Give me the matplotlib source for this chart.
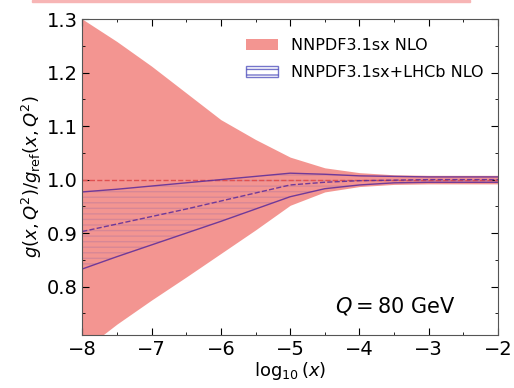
import matplotlib.pyplot as plt
import matplotlib.patches as mpatches
from matplotlib.ticker import MultipleLocator

# log10(x) grid
logx = [-8.0, -7.5, -7.0, -6.5, -6.0, -5.5, -5.0, -4.5, -4.0, -3.5, -3.0, -2.5, -2.0]

# NNPDF3.1sx NLO band (ratio to reference)
ref_up = [1.30, 1.258, 1.212, 1.162, 1.112, 1.075, 1.042, 1.022, 1.013, 1.009, 1.008, 1.008, 1.008]
ref_lo = [0.68, 0.730, 0.775, 0.818, 0.862, 0.906, 0.952, 0.977, 0.987, 0.991, 0.992, 0.992, 0.992]
ref_cv = [1.0] * len(logx)

# NNPDF3.1sx+LHCb NLO band
lhcb_up = [0.977, 0.982, 0.988, 0.994, 1.000, 1.006, 1.012, 1.010, 1.007, 1.006, 1.005, 1.005, 1.005]
lhcb_cv = [0.903, 0.917, 0.931, 0.945, 0.960, 0.975, 0.990, 0.995, 0.998, 0.999, 1.000, 1.000, 1.000]
lhcb_lo = [0.833, 0.856, 0.878, 0.900, 0.922, 0.945, 0.968, 0.983, 0.990, 0.994, 0.995, 0.995, 0.995]

red = '#f28a85'
blue = '#3b3bb5'

fig = plt.figure(figsize=(5.14, 3.88), dpi=100)
ax = fig.add_axes([0.160, 0.137, 0.809, 0.814])

ax.fill_between(logx, ref_lo, ref_up, color=red, alpha=0.9, lw=0)
ax.plot(logx, ref_cv, ls='--', color='#e05050', lw=1.0)

ax.fill_between(logx, lhcb_lo, lhcb_up, facecolor='none', edgecolor=blue,
                hatch='---', lw=0, alpha=0.15)
ax.plot(logx, lhcb_up, color='#5a2a9a', lw=1.0, alpha=0.85)
ax.plot(logx, lhcb_lo, color='#5a2a9a', lw=1.0, alpha=0.85)
ax.plot(logx, lhcb_cv, color='#5a2a9a', lw=1.0, ls='--', alpha=0.85)

ax.set_xlim(-8, -2)
ax.set_ylim(0.71, 1.3)
ax.xaxis.set_major_locator(MultipleLocator(1))
ax.xaxis.set_minor_locator(MultipleLocator(0.5))
ax.yaxis.set_major_locator(MultipleLocator(0.1))
ax.yaxis.set_minor_locator(MultipleLocator(0.05))
ax.tick_params(which='both', direction='in', top=True, right=True, labelsize=14)
ax.tick_params(which='major', length=5)
ax.tick_params(which='minor', length=2.5)
for s in ax.spines.values():
    s.set_color('#555555')

ax.set_xlabel(r'$\log_{10}(x)$', fontsize=13, labelpad=1)
ax.set_ylabel(r'$g(x,Q^2)/g_{\rm ref}(x,Q^2)$', fontsize=13, labelpad=2)

handles = [mpatches.Patch(facecolor=red, alpha=0.9),
           mpatches.Patch(facecolor='none', edgecolor=blue, hatch='---', alpha=0.7)]
ax.legend(handles, ['NNPDF3.1sx NLO', 'NNPDF3.1sx+LHCb NLO'], loc='upper right',
          bbox_to_anchor=(1.0, 0.985), frameon=False, fontsize=11.5,
          handlelength=2.0, labelspacing=0.75, handletextpad=0.8)

ax.text(0.897, 0.092, r'$Q = 80$ GeV', transform=ax.transAxes, ha='right',
        va='center', fontsize=15)

# thin pink strip along the top edge of the image
fig.patches.append(mpatches.Rectangle((0.063, 0.994), 0.852, 0.006,
                                      transform=fig.transFigure,
                                      color='#f7b5b5', zorder=0))

fig.savefig('out.png', dpi=100)
